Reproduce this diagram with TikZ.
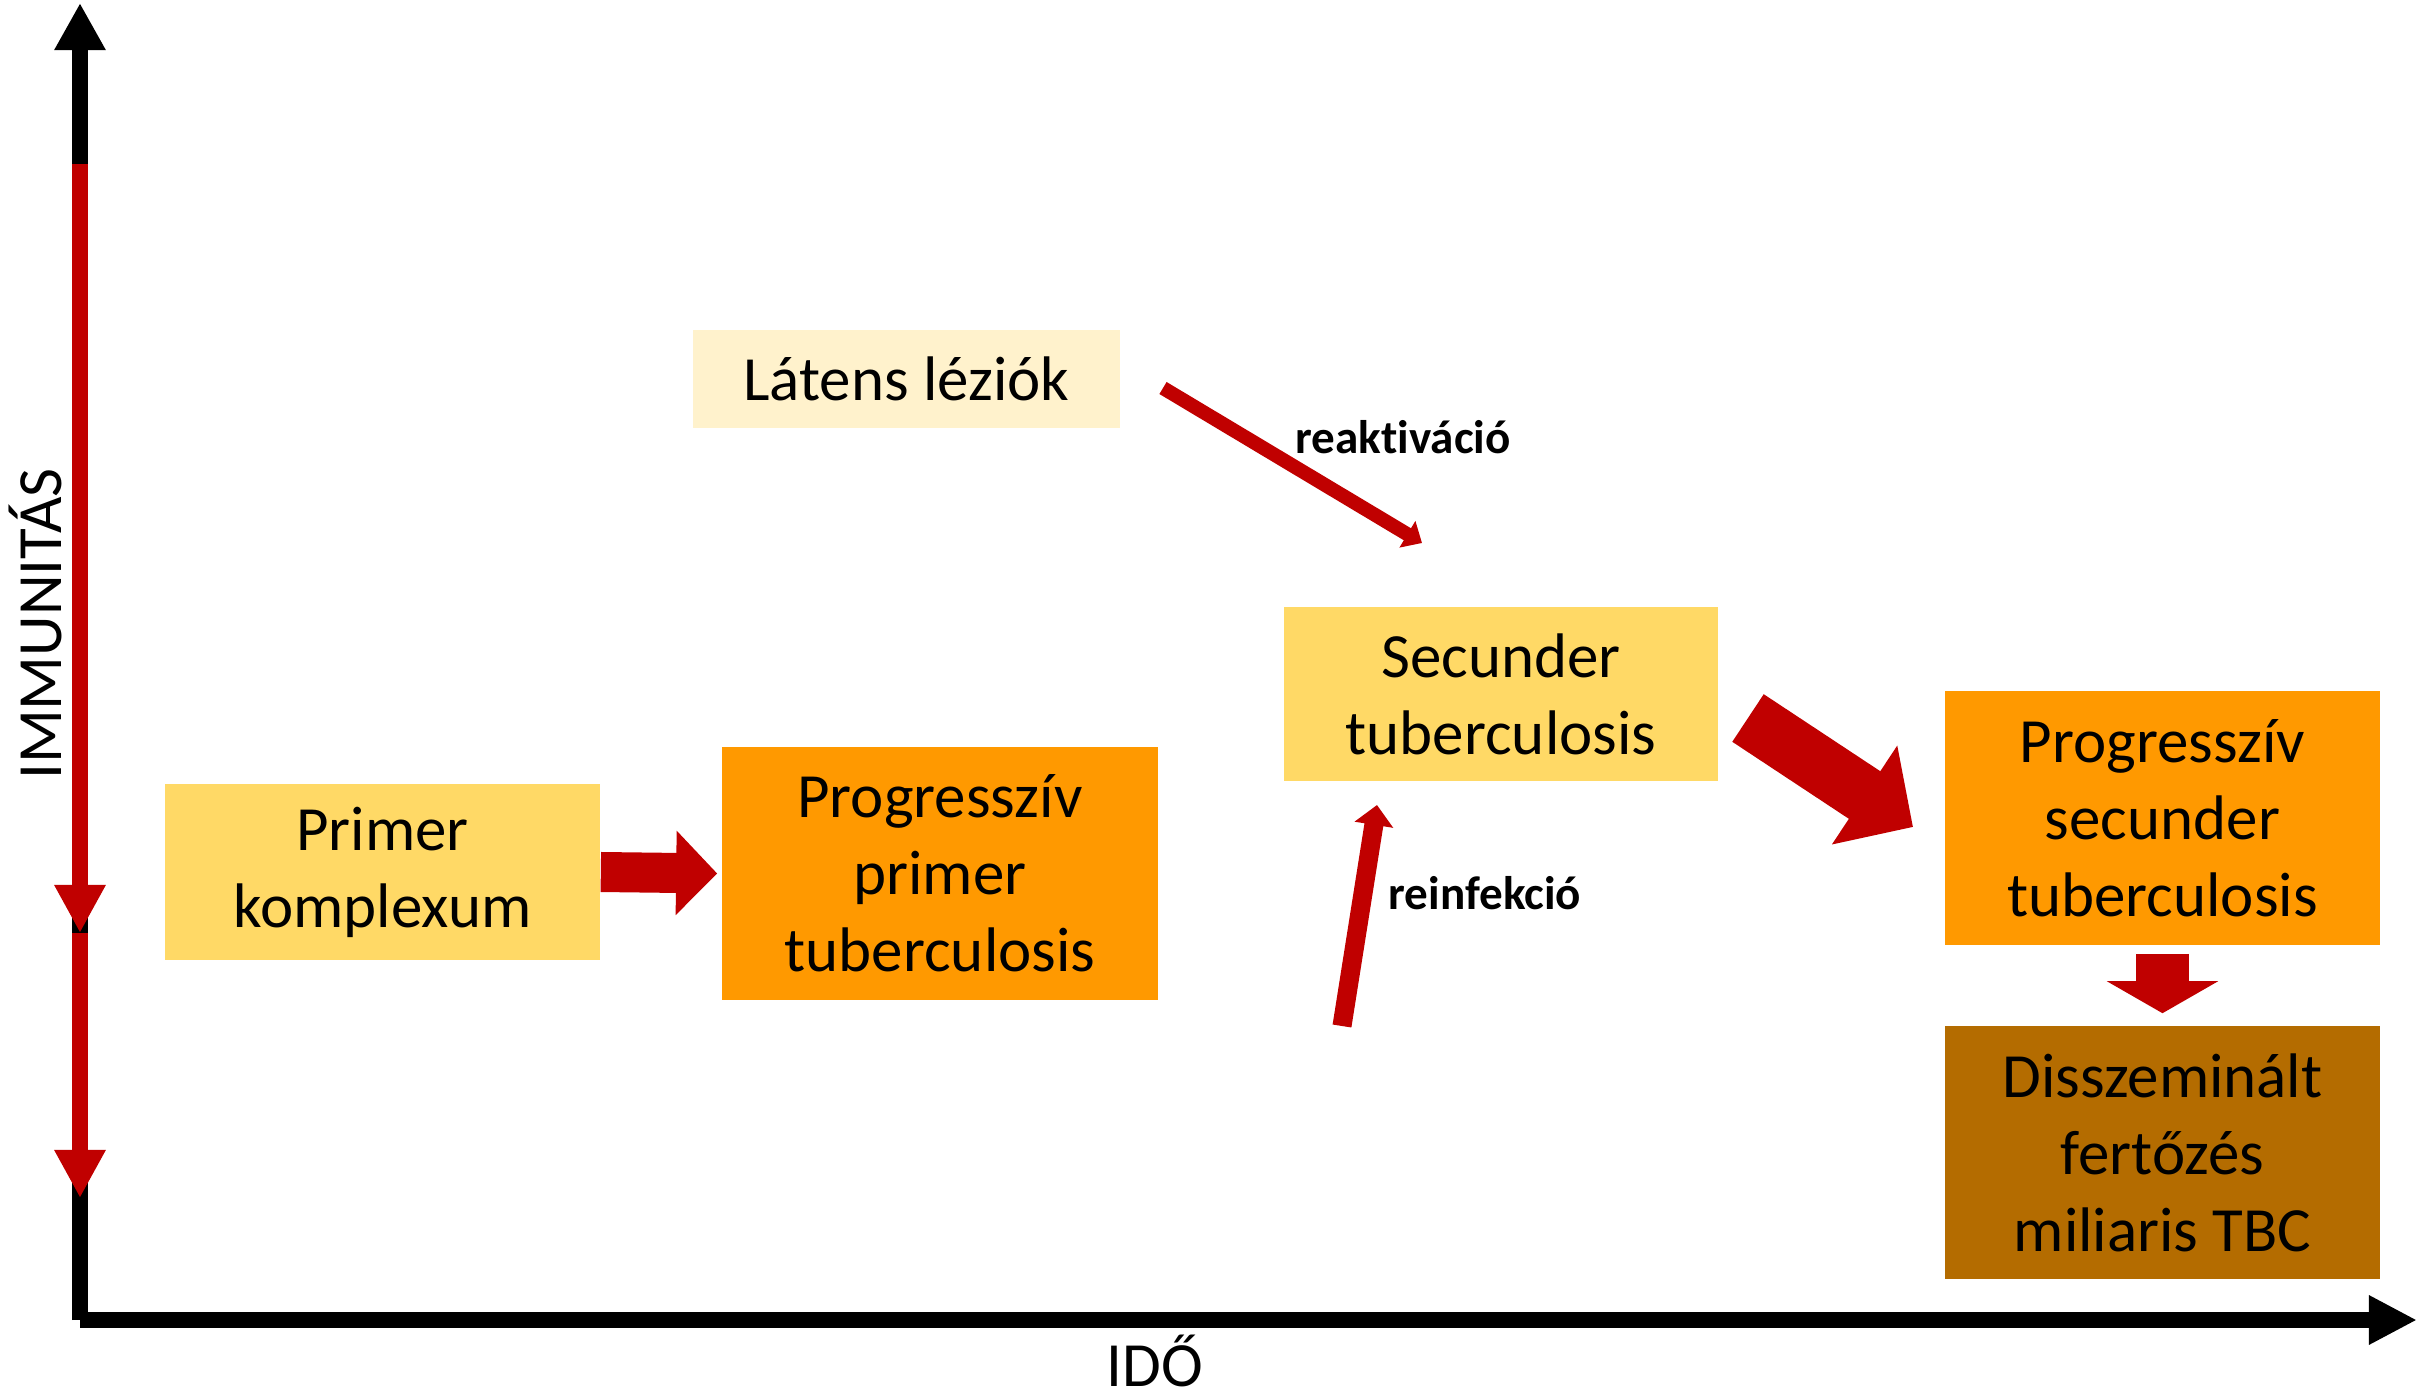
\documentclass[tikz,border=0pt]{standalone}
\usepackage{fontspec}
\setmainfont{Carlito}[Ligatures={NoCommon}]
\usetikzlibrary{arrows.meta}
\definecolor{cream}{HTML}{FFF2CC}
\definecolor{lightyel}{HTML}{FFD966}
\definecolor{orng}{HTML}{FF9900}
\definecolor{brwn}{HTML}{B46C00}
\definecolor{dred}{HTML}{C00000}
\begin{document}
\begin{tikzpicture}[x=0.01cm,y=-0.01cm,
  box/.style={rectangle, inner sep=0pt, align=center, text=black,
    font=\fontsize{17.9}{21.9}\selectfont},
  axislabel/.style={inner sep=0pt, anchor=base, font=\fontsize{17.9}{21.9}\selectfont},
  smalllabel/.style={inner sep=0pt, font=\bfseries\fontsize{13.4}{16}\selectfont},
  axisline/.style={line width=0.16cm, line cap=butt},
  redline/.style={axisline, draw=dred, -{Triangle[width=0.48cm,length=0.48cm]}},
  blockarrow/.style={draw=dred, line cap=butt}
]
\useasboundingbox (0,0) rectangle (2420,1397);

% axes
\coordinate (O) at (80,1320);
\coordinate (ytop) at (80,3);
\coordinate (xend) at (2417,1320);
\draw[axisline, -{Triangle[width=0.48cm,length=0.47cm]}] (O) -- (ytop);
\draw[axisline, -{Triangle[width=0.46cm,length=0.48cm]}] (O) -- (xend);

% red immunity arrows
\coordinate (r0) at (80,164);
\coordinate (r1) at (80,933);
\coordinate (r2) at (80,1198);
\draw[redline] (r0) -- (r1);
\draw[redline] (r1) -- (r2);

\node[axislabel, rotate=90] (ylab) at (61,624) {IMMUNITÁS};
\node[axislabel] (xlab) at (1155,1386) {IDŐ};

% boxes
\node[box, fill=cream, minimum width=4.27cm, minimum height=0.98cm] (lat) at (906.5,379) {Látens léziók};
\node[box, fill=lightyel, minimum width=4.35cm, minimum height=1.76cm] (prim) at (382.5,872) {Primer\\komplexum};
\node[box, fill=orng, minimum width=4.36cm, minimum height=2.53cm] (pprim) at (940,873.5) {Progresszív\\primer\\tuberculosis};
\node[box, fill=lightyel, minimum width=4.34cm, minimum height=1.74cm] (sec) at (1501,694) {Secunder\\tuberculosis};
\node[box, fill=orng, minimum width=4.35cm, minimum height=2.54cm] (psec) at (2162.5,818) {Progresszív\\secunder\\tuberculosis};
\node[box, fill=brwn, minimum width=4.35cm, minimum height=2.53cm] (diss) at (2162.5,1152.5) {Disszeminált\\fertőzés\\miliaris TBC};

% block arrows
\draw[blockarrow, line width=0.40cm, -{Triangle[width=0.82cm,length=0.41cm]}, shorten >=0.04cm] (prim.east) -- (pprim.west);
\draw[blockarrow, line width=0.53cm, -{Triangle[width=1.10cm,length=0.32cm]}, shorten <=0.08cm, shorten >=0.12cm] (psec.south) -- (diss.north);

\coordinate (b1) at (1748,718);
\coordinate (b2) at (1913,827);
\draw[blockarrow, line width=0.57cm, -{Triangle[width=1.15cm,length=0.58cm]}] (b1) -- (b2);

% reactivation
\coordinate (ra1) at (1163,388);
\coordinate (ra2) at (1422,543);
\draw[blockarrow, line width=0.14cm, -{Triangle[width=0.30cm,length=0.17cm]}] (ra1) -- (ra2);
\node[smalllabel, anchor=base west] (reak) at (1295,453) {reaktiváció};

% reinfection
\coordinate (ri1) at (1342,1026);
\coordinate (ri2) at (1377,805);
\draw[blockarrow, line width=0.19cm, -{Triangle[width=0.38cm,length=0.20cm]}] (ri1) -- (ri2);
\node[smalllabel, anchor=base west] (reinf) at (1388,909) {reinfekció};
\end{tikzpicture}
\end{document}
